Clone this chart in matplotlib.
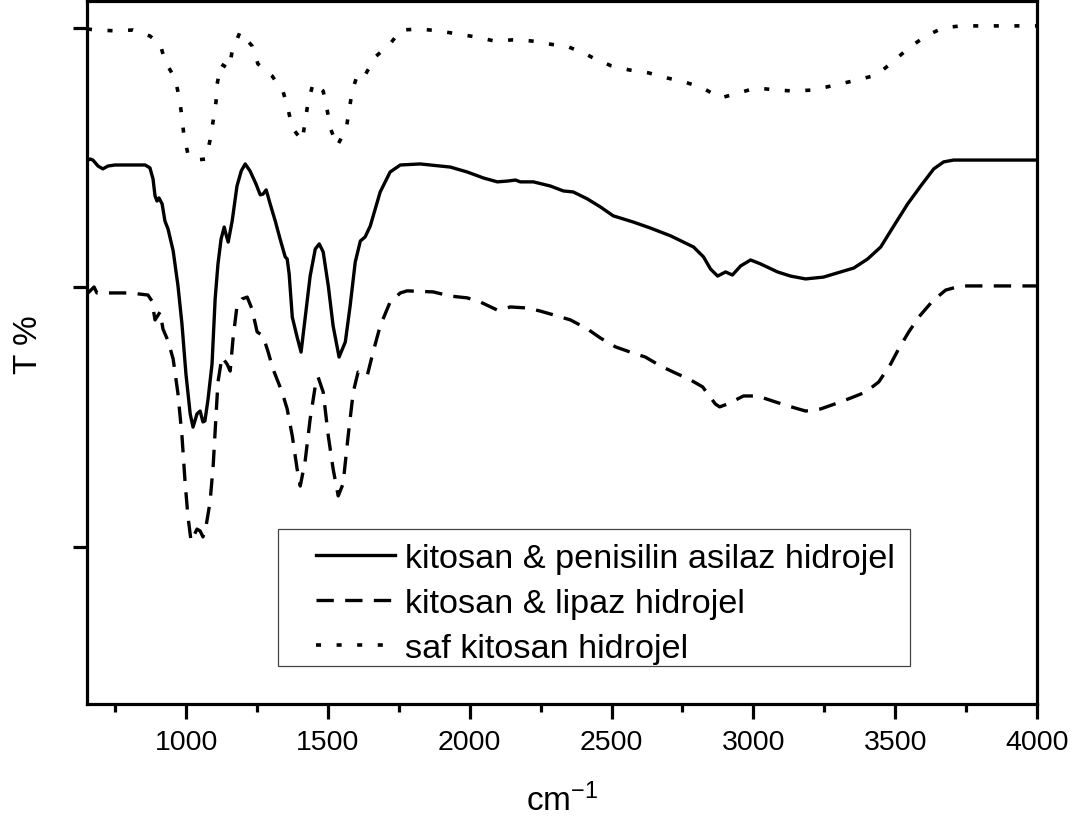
import matplotlib
matplotlib.use('Agg')
import matplotlib.pyplot as plt
from matplotlib.patches import Rectangle
from matplotlib.ticker import MultipleLocator, FixedLocator, NullFormatter

plt.rcParams['font.family'] = ['Liberation Sans', 'DejaVu Sans']
plt.rcParams['mathtext.default'] = 'regular'

# ---------------- data (wavenumber cm-1, offset T %) ----------------
labels = ["kitosan & penisilin asilaz hidrojel",
          "kitosan & lipaz hidrojel",
          "saf kitosan hidrojel"]

wn_pen = [650, 661, 671, 689, 706, 724, 749, 855, 872, 883, 890, 897, 904, 915, 925, 936,
          954, 971, 985, 999, 1014, 1024, 1038, 1049, 1059, 1066, 1077, 1091, 1102, 1112,
          1123, 1134, 1141, 1148, 1162, 1179, 1194, 1208, 1225, 1246, 1261, 1271, 1282,
          1296, 1314, 1331, 1349, 1356, 1363, 1374, 1391, 1405, 1419, 1437, 1455, 1469,
          1483, 1501, 1518, 1539, 1561, 1578, 1596, 1614, 1631, 1649, 1684, 1719, 1755,
          1825, 1931, 1991, 2048, 2097, 2132, 2161, 2178, 2224, 2284, 2330, 2365, 2415,
          2461, 2506, 2577, 2637, 2708, 2789, 2824, 2849, 2874, 2902, 2926, 2955, 2990,
          3025, 3085, 3131, 3184, 3247, 3308, 3354, 3403, 3449, 3495, 3544, 3590, 3636,
          3671, 3706, 3872, 4000]
t_pen = [148.8, 149.5, 149.1, 146.8, 145.7, 146.8, 147.2, 147.2, 146.1, 141.8, 135.3, 133.3,
         134.5, 132.2, 125.6, 122.5, 114.1, 100.6, 85.9, 66.7, 51.3, 46.2, 51.3, 52.4, 48.2,
         48.6, 57.0, 70.5, 95.6, 109.1, 118.7, 123.3, 120.2, 117.5, 125.6, 139.1, 144.9,
         147.6, 144.9, 139.9, 135.7, 136.0, 137.6, 132.2, 125.6, 118.7, 111.8, 111.0, 105.2,
         88.6, 80.9, 75.1, 87.9, 104.4, 114.8, 116.8, 113.7, 100.6, 85.2, 73.2, 79.0, 92.9,
         109.8, 117.9, 119.5, 123.7, 136.8, 144.5, 147.2, 147.6, 146.4, 144.5, 142.2, 140.7,
         141.0, 141.4, 140.7, 140.7, 139.1, 137.2, 136.8, 134.1, 131.0, 127.6, 125.2, 122.9,
         119.9, 115.6, 111.8, 107.1, 104.4, 106.0, 104.8, 108.3, 110.6, 109.1, 106.0, 104.4,
         103.3, 104.0, 106.0, 107.5, 111.0, 115.6, 123.7, 132.2, 139.1, 145.7, 148.4, 149.1,
         149.1, 149.1]

wn_lip = [650, 664, 675, 685, 731, 802, 865, 879, 890, 901, 908, 918, 936, 954, 971, 985,
          996, 1006, 1017, 1028, 1038, 1049, 1059, 1070, 1084, 1095, 1105, 1112, 1126, 1144,
          1155, 1165, 1179, 1197, 1215, 1232, 1250, 1271, 1289, 1306, 1338, 1356, 1374, 1391,
          1402, 1419, 1437, 1455, 1465, 1483, 1501, 1518, 1536, 1553, 1571, 1589, 1606, 1624,
          1638, 1659, 1684, 1719, 1755, 1779, 1871, 1931, 1991, 2037, 2097, 2118, 2143, 2203,
          2249, 2309, 2355, 2415, 2461, 2514, 2574, 2619, 2672, 2718, 2778, 2821, 2866, 2881,
          2909, 2965, 3014, 3078, 3124, 3184, 3237, 3297, 3343, 3396, 3442, 3484, 3512, 3548,
          3583, 3632, 3678, 3731, 4000]
t_lip = [97.5, 99.0, 100.2, 97.9, 97.9, 97.9, 97.1, 94.8, 87.5, 89.4, 90.6, 84.0, 79.4, 72.4,
         59.0, 42.8, 25.0, 11.9, 2.3, 4.6, 6.9, 6.2, 3.9, 8.1, 17.3, 31.2, 50.5, 63.6, 73.2,
         70.5, 67.8, 80.2, 92.9, 95.6, 96.3, 91.7, 82.9, 81.3, 75.1, 68.6, 59.7, 53.2, 42.8,
         30.1, 23.5, 32.8, 49.3, 62.0, 65.5, 59.7, 42.8, 30.1, 19.7, 24.3, 42.8, 59.7, 67.4,
         66.7, 65.9, 75.1, 85.2, 94.4, 97.9, 98.7, 98.3, 96.7, 96.0, 94.4, 91.3, 91.7, 92.5,
         92.1, 90.9, 89.0, 87.5, 84.0, 80.5, 77.1, 74.8, 73.2, 69.8, 67.4, 64.4, 61.7, 55.1,
         54.0, 55.1, 58.2, 58.2, 55.9, 54.3, 52.4, 53.2, 55.5, 57.4, 59.7, 63.6, 70.5, 76.3,
         82.9, 88.6, 94.8, 99.0, 100.6, 100.6]

wn_saf = [650, 685, 749, 812, 872, 908, 925, 961, 975, 985, 992, 1006, 1031, 1070, 1084,
          1095, 1105, 1109, 1123, 1151, 1162, 1190, 1232, 1253, 1303, 1342, 1359, 1374, 1409,
          1419, 1430, 1448, 1483, 1497, 1508, 1532, 1564, 1575, 1585, 1606, 1631, 1666, 1716,
          1758, 1822, 1889, 1956, 2023, 2086, 2150, 2217, 2281, 2348, 2408, 2436, 2499, 2563,
          2630, 2697, 2757, 2821, 2884, 2948, 3011, 3078, 3142, 3212, 3244, 3304, 3368, 3435,
          3491, 3548, 3608, 3668, 3731, 4000]
t_saf = [199.6, 199.2, 198.9, 199.2, 196.9, 193.8, 187.3, 180.4, 173.4, 165.7, 158.4, 151.5,
         149.1, 149.5, 156.8, 164.2, 171.5, 178.4, 186.1, 184.2, 191.1, 198.5, 193.1, 186.1,
         181.5, 175.3, 168.8, 161.5, 156.5, 163.8, 171.5, 178.8, 175.7, 168.4, 161.5, 154.5,
         161.1, 168.4, 175.7, 182.7, 181.9, 188.8, 193.5, 199.2, 199.6, 198.9, 197.7, 196.5,
         195.0, 195.4, 195.0, 193.8, 192.7, 190.0, 188.4, 185.4, 183.8, 182.7, 180.7, 179.2,
         176.9, 173.0, 175.0, 176.9, 176.1, 175.7, 176.1, 176.9, 178.4, 180.0, 181.9, 186.9,
         192.3, 196.9, 200.0, 200.8, 200.8]

x_major = [1000, 1500, 2000, 2500, 3000, 3500, 4000]
y_ticks = [0, 100, 200]

# ---------------- figure ----------------
fig = plt.figure(figsize=(10.83, 8.2), dpi=100)
ax = fig.add_axes([0.0803, 0.1402, 0.8772, 0.8574])

lw = 2.3
ax.plot(wn_pen, t_pen, color='black', lw=2.4, solid_joinstyle='round', label=labels[0])
ax.plot(wn_lip, t_lip, color='black', lw=2.4, ls=(0, (5.2, 3.4)), label=labels[1])
ax.plot(wn_saf, t_saf, color='black', lw=2.6, ls=(0, (1.4, 4.3)), label=labels[2])

ax.set_xlim(650, 4000)
ax.set_ylim(-60.5, 210.4)

ax.xaxis.set_major_locator(FixedLocator(x_major))
ax.xaxis.set_minor_locator(MultipleLocator(250))
ax.yaxis.set_major_locator(FixedLocator(y_ticks))
ax.yaxis.set_major_formatter(NullFormatter())

for s in ax.spines.values():
    s.set_linewidth(lw)

ax.tick_params(axis='x', which='major', direction='out', length=10.8, width=lw,
               labelsize=20.5, pad=7, top=False)
ax.tick_params(axis='x', which='minor', direction='out', length=5.8, width=lw, top=False)
ax.tick_params(axis='y', which='major', direction='out', length=10, width=lw,
               right=False, labelleft=False)

ax.set_xlabel('cm$^{-1}$', fontsize=24)
ax.xaxis.set_label_coords(0.5, -0.112)
ax.set_ylabel('T %', fontsize=24)
ax.yaxis.set_label_coords(-0.045, 0.512)

# legend
leg = ax.legend(loc='upper left', bbox_to_anchor=(0.241, 0.229), frameon=False,
                borderpad=0, borderaxespad=0, handlelength=2.3, handletextpad=0.3,
                labelspacing=0.4, fontsize=24.7)
ax.add_patch(Rectangle((0.201, 0.054), 0.665, 0.195, transform=ax.transAxes,
                       fill=True, facecolor='white', edgecolor='#444444', lw=0.9, zorder=4))
leg.set_zorder(5)

fig.savefig('out.png', dpi=100)
